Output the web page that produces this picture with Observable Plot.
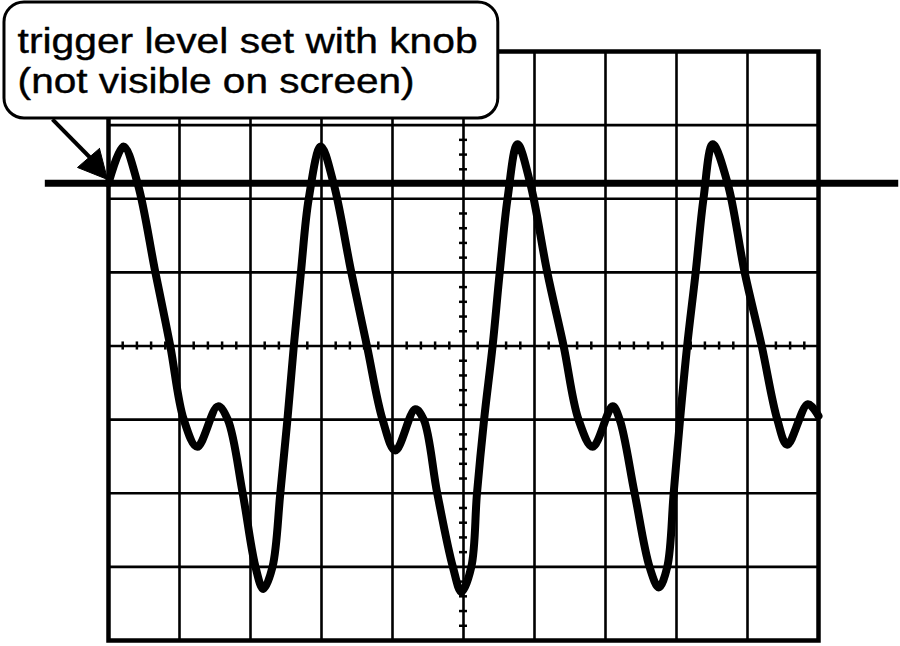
<!DOCTYPE html>
<html>
<head>
<meta charset="utf-8">
<script src="https://cdn.jsdelivr.net/npm/d3@7"></script>
<script src="https://cdn.jsdelivr.net/npm/@observablehq/plot@0.6"></script>
<style>
  html, body { margin: 0; padding: 0; background: #fff; }
  #chart svg { display: block; }
</style>
</head>
<body>
<div id="chart"></div>
<script>
// ---- Waveform (units = divisions) ----
const time = [
  0.00, 0.21, 0.41, 0.66, 0.87, 1.06, 1.25, 1.54, 1.68, 1.89, 2.07, 2.18, 2.31, 2.42, 2.52, 2.61, 2.71, 2.82, 2.99,
  3.17, 3.42, 3.64, 3.86, 4.04, 4.32, 4.44, 4.63, 4.85, 4.97, 5.11, 5.19, 5.29, 5.41, 5.51, 5.62, 5.76,
  5.94, 6.18, 6.41, 6.62, 6.82, 7.10, 7.20, 7.41, 7.62, 7.75, 7.87, 7.96, 8.05, 8.15, 8.27, 8.38, 8.51,
  8.72, 8.96, 9.20, 9.42, 9.56, 9.85, 10.00
];
const volts = [
  2.21, 2.71, 2.21, 1.00, 0.00, -1.00, -1.37, -0.82, -1.00, -2.00, -3.00, -3.30, -3.00, -2.00, -1.00, 0.00, 1.00, 2.00, 2.71,
  2.21, 1.00, 0.00, -1.00, -1.42, -0.86, -1.00, -2.00, -3.00, -3.34, -3.00, -2.00, -1.00, 0.00, 1.00, 2.00, 2.74,
  2.21, 1.00, 0.00, -1.00, -1.37, -0.82, -1.00, -2.00, -3.00, -3.28, -3.00, -2.00, -1.00, 0.00, 1.00, 2.00, 2.74,
  2.21, 1.00, 0.00, -1.00, -1.34, -0.79, -0.95
];

// ---- Screen graticule ----
const gridX = [1, 2, 3, 4, 5, 6, 7, 8, 9];
const gridY = [-3, -2, -1, 0, 1, 2, 3];
const minorX = d3.range(1, 50).map(i => i / 5).filter(v => v % 1 !== 0);
const minorY = d3.range(-19, 20).map(i => i / 5).filter(v => v % 1 !== 0);

// ---- Trigger level (line extends beyond screen) ----
const triggerLevel = 2.21;
const triggerFrom = -0.89;
const triggerTo = 11.13;

// ---- Callout ----
const calloutLines = ["trigger level set with knob", "(not visible on screen)"];
const calloutLineY = [3.974, 3.431];
const calloutTextX = -1.28;
const calloutBox = [{x1: -1.465, x2: 5.49, y1: 4.667, y2: 3.091}];
const arrowShaftX = [-0.789, -0.25];
const arrowShaftY = [3.077, 2.55];
const arrowHeadX = [-0.127, -0.014, -0.437, -0.127];
const arrowHeadY = [2.683, 2.262, 2.425, 2.683];

// styles / sizes
const textWidths = [460, 397];

const wave = time.map((t, i) => ({t, v: volts[i]}));
const chart = Plot.plot({
  width: 900,
  height: 646,
  marginLeft: 108,
  marginRight: 82,
  marginTop: 51,
  marginBottom: 6,
  style: {background: "white", overflow: "visible"},
  x: {domain: [0, 10], axis: null},
  y: {domain: [-4, 4], axis: null},
  marks: [
    Plot.ruleX(gridX, {stroke: "black", strokeWidth: 2.6}),
    Plot.ruleY(gridY, {stroke: "black", strokeWidth: 2.6}),
    Plot.ruleX(minorX, {x: d => d, y1: () => -0.055, y2: () => 0.055, stroke: "black", strokeWidth: 2.5}),
    Plot.ruleY(minorY, {y: d => d, x1: () => 4.944, x2: () => 5.056, stroke: "black", strokeWidth: 2.5}),
    Plot.frame({stroke: "black", strokeWidth: 4.5}),
    Plot.line(wave, {x: "t", y: "v", curve: "catmull-rom", stroke: "black", strokeWidth: 8}),
    Plot.ruleY([triggerLevel], {y: d => d, x1: () => triggerFrom, x2: () => triggerTo, stroke: "black", strokeWidth: 7}),
    Plot.rect(calloutBox, {x1: "x1", x2: "x2", y1: "y1", y2: "y2", fill: "white", stroke: "black", strokeWidth: 3, rx: 20}),
    Plot.text(calloutLines, {x: () => calloutTextX, y: (d, i) => calloutLineY[i], text: d => d,
      textAnchor: "start", lineAnchor: "bottom", fontSize: 35, fontFamily: "Liberation Sans, Arial, sans-serif",
      fill: "black", stroke: "black", strokeWidth: 0.4}),
    Plot.line(arrowShaftX.map((x, i) => ({x, y: arrowShaftY[i]})), {x: "x", y: "y", stroke: "black", strokeWidth: 4, strokeLinecap: "butt"}),
    Plot.line(arrowHeadX.map((x, i) => ({x, y: arrowHeadY[i]})), {x: "x", y: "y", fill: "black", stroke: "black", strokeWidth: 1, curve: "linear"})
  ]
});
d3.select(chart).selectAll('g[aria-label="text"] text')
  .attr("textLength", (d, i) => textWidths[i])
  .attr("lengthAdjust", "spacingAndGlyphs");
document.getElementById("chart").appendChild(chart);
</script>
</body>
</html>
